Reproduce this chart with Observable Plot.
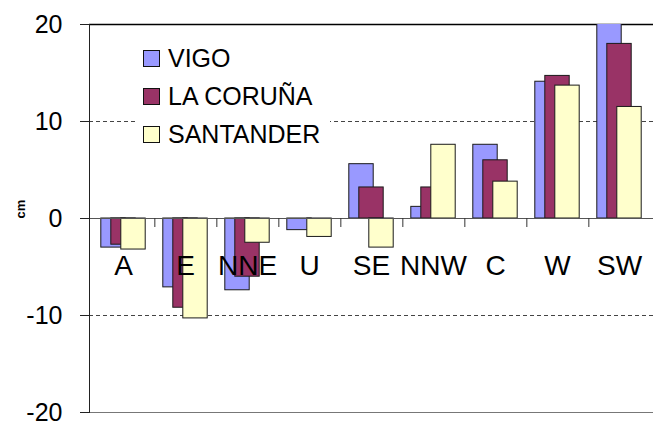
<!DOCTYPE html>
<html>
<head>
<meta charset="utf-8">
<script src="https://cdn.jsdelivr.net/npm/d3@7"></script>
<script src="https://cdn.jsdelivr.net/npm/@observablehq/plot@0.6"></script>
<style>
  html, body { margin: 0; padding: 0; background: #fff; }
  #wrap { position: relative; width: 653px; height: 424px; font-family: "Liberation Sans", Arial, sans-serif; }
  #legend { position: absolute; left: 135px; top: 40px; width: 195px; height: 114px; background: #fff; }
  .item { position: absolute; left: 8px; height: 17px; display: flex; align-items: center; }
  .sw { width: 15px; height: 15px; border: 1px solid #111; margin-right: 8px; flex: none; }
  .lbl { font-size: 25px; color: #000; line-height: 17px; white-space: nowrap; }
</style>
</head>
<body>
<div id="wrap"></div>
<script>
// Wind-type categories and mean sea-level anomaly (cm) per station
const categories = ["A", "E", "NNE", "U", "SE", "NNW", "C", "W", "SW"];
const vigo      = [-3.0, -7.1, -7.4, -1.2, 5.6, 1.2, 7.6, 14.1, 21.0];
const coruna    = [-2.7, -9.2, -6.0, 0.0, 3.2, 3.2, 6.0, 14.7, 18.0];
const santander = [-3.2, -10.3, -2.5, -1.9, -3.0, 7.6, 3.8, 13.7, 11.5];
const seriesNames = ["VIGO", "LA CORUÑA", "SANTANDER"];
const seriesColors = ["#9999ff", "#993366", "#ffffcc"];
const yTicks = [-20, -10, 0, 10, 20];

const seriesValues = [vigo, coruna, santander];
const offsets = [-10, 0, 10];
const font = "'Liberation Sans', Arial, sans-serif";

const barMarks = seriesValues.map((vals, s) =>
  Plot.barY(
    categories.map((c, i) => ({cat: c, value: vals[i]})).filter(d => d.value !== 0),
    {
      x: "cat", y: "value",
      fill: seriesColors[s], stroke: "#1a1a1a", strokeWidth: 1,
      dx: offsets[s], insetLeft: 18.8, insetRight: 18.8, clip: true
    }
  )
);

const chart = Plot.plot({
  width: 653,
  height: 424,
  marginLeft: 89,
  marginRight: 0,
  marginTop: 24,
  marginBottom: 12,
  style: {fontFamily: font, color: "#000", background: "#fff"},
  x: {type: "band", domain: categories, padding: 0, axis: null},
  y: {domain: [-20, 20], axis: null},
  marks: [
    Plot.ruleY([10, -10], {stroke: "#444", strokeDasharray: "4,3"}),
    Plot.ruleY([20], {stroke: "#000", strokeWidth: 1.5}),
    Plot.ruleY([-20], {stroke: "#777"}),
    ...barMarks,
    Plot.ruleY([0], {stroke: "#555"}),
    Plot.ruleX(categories.slice(0, -1), {x: d => d, dx: 31.33, y1: 0, y2: 0, insetBottom: -9, stroke: "#333"}),
    Plot.frame({anchor: "left", stroke: "#222", strokeDasharray: "2,1"}),
    Plot.axisY({
      ticks: yTicks, tickSize: 9, tickPadding: 18, fontSize: 25,
      tickFormat: d => String(d), stroke: "#222", label: null
    }),
    Plot.text(categories, {x: d => d, y: 0, dy: 48, fontSize: 28, fill: "#000"}),
    Plot.text(["cm"], {frameAnchor: "left", dx: -69, rotate: -90, fontSize: 13, fontWeight: "bold", fill: "#000"})
  ]
});

const wrap = document.getElementById("wrap");
wrap.appendChild(chart);

// Series key, laid over the upper-left of the plot area
const legend = document.createElement("div");
legend.id = "legend";
seriesNames.forEach((name, i) => {
  const item = document.createElement("div");
  item.className = "item";
  item.style.top = (10 + i * 38) + "px";
  const sw = document.createElement("div");
  sw.className = "sw";
  sw.style.background = seriesColors[i];
  const lbl = document.createElement("span");
  lbl.className = "lbl";
  lbl.textContent = name;
  item.appendChild(sw);
  item.appendChild(lbl);
  legend.appendChild(item);
});
wrap.appendChild(legend);
</script>
</body>
</html>
